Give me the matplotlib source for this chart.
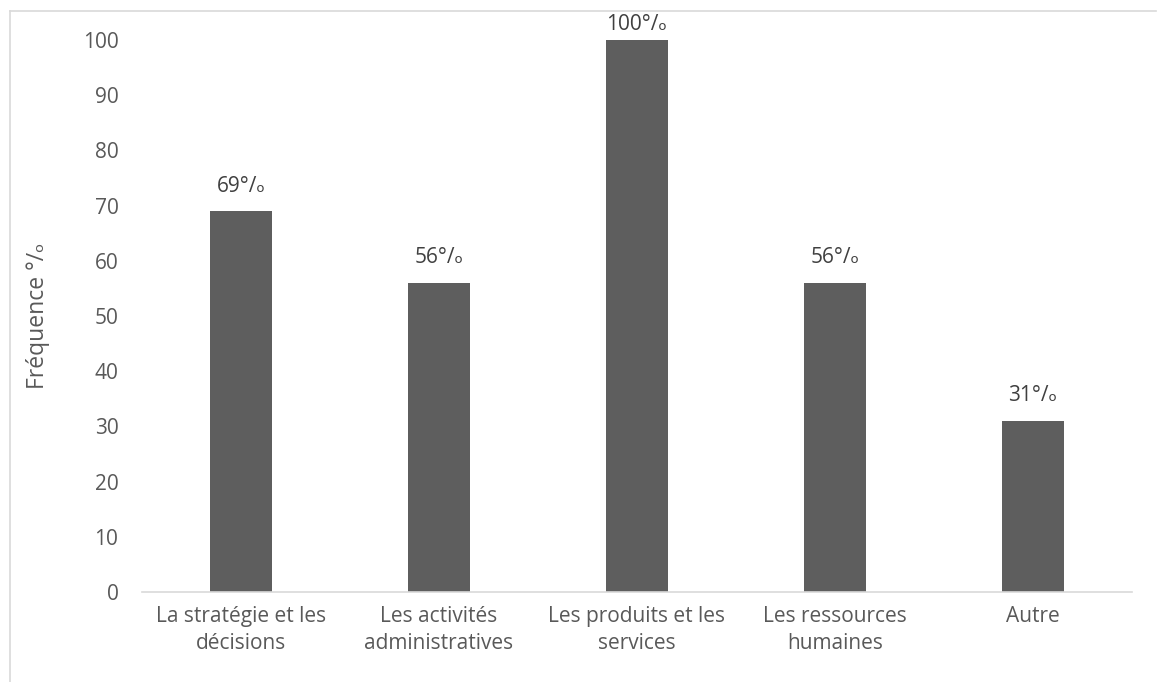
import matplotlib
matplotlib.use("Agg")
import matplotlib.pyplot as plt
from matplotlib.lines import Line2D

plt.rcParams['font.family'] = ['Open Sans', 'DejaVu Sans']

categories = [
    "La stratégie et les\ndécisions",
    "Les activités\nadministratives",
    "Les produits et les\nservices",
    "Les ressources\nhumaines",
    "Autre",
]
values = [69, 56, 100, 56, 31]
yticks = [0, 10, 20, 30, 40, 50, 60, 70, 80, 90, 100]
ylabel = "Fréquence °/ₒ"
suffix = "°/ₒ"

text_color = "#595959"
bar_color = "#5e5e5e"
grid_color = "#d9d9d9"
fs = 15

fig = plt.figure(figsize=(11.57, 6.82), dpi=100)
ax = fig.add_axes([142 / 1157, 1 - 592 / 682, 990 / 1157, 552 / 682])

x = list(range(len(categories)))
bars = ax.bar(x, values, width=0.31, color=bar_color, zorder=2)

ax.set_xlim(-0.5, len(categories) - 0.5)
ax.set_ylim(0, 100)
ax.set_yticks(yticks)
ax.set_xticks(x)
ax.set_xticklabels(categories, fontsize=fs, color=text_color, linespacing=1.4)
ax.tick_params(axis='x', length=0, pad=10)
ax.tick_params(axis='y', length=0, pad=17, labelsize=fs, labelcolor=text_color)

for side in ("top", "right", "left"):
    ax.spines[side].set_visible(False)
ax.spines["bottom"].set_color(grid_color)
ax.spines["bottom"].set_linewidth(1.2)

ax.set_ylabel(ylabel, fontsize=16.5, color=text_color)
ax.yaxis.set_label_coords(-0.093, 0.5)

for rect, v in zip(bars, values):
    off = 11 if v >= 100 else 18
    ax.annotate(f"{v}{suffix}", (rect.get_x() + rect.get_width() / 2, v),
                xytext=(0, off), textcoords="offset points",
                ha="center", va="center", fontsize=fs, color="#404040",
                annotation_clip=False)

# light chart frame
fig.add_artist(Line2D([10 / 1157, 1156 / 1157], [1 - 11 / 682, 1 - 11 / 682],
                      transform=fig.transFigure, color=grid_color, lw=1.2))
fig.add_artist(Line2D([10 / 1157, 10 / 1157], [0, 1 - 11 / 682],
                      transform=fig.transFigure, color=grid_color, lw=1.2))

fig.savefig("out.png", dpi=100)
